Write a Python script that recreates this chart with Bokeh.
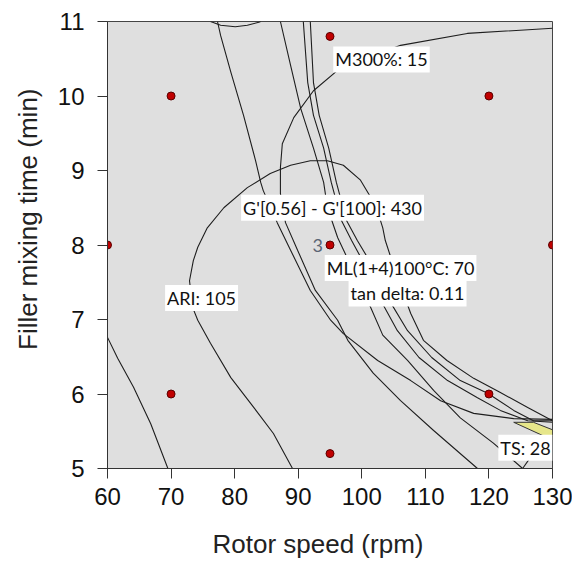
from bokeh.plotting import figure
from bokeh.models import Label, Range1d, FixedTicker, Title
from bokeh.embed import file_html
from bokeh.resources import INLINE

# ---- data ----
x_ticks = [60, 70, 80, 90, 100, 110, 120, 130]
y_ticks = [5, 6, 7, 8, 9, 10, 11]

design_x = [60, 130, 70, 70, 120, 120, 95, 95, 95]
design_y = [8, 8, 6, 10, 6, 10, 5.2, 10.8, 8]

curve_a_x = [60.0, 61.6, 64.1, 66.8, 69.5]
curve_a_y = [6.76, 6.48, 6.09, 5.60, 5.0]

curve_g_x = [89.1, 86.1, 83.0, 79.4, 76.2, 74.2, 73.4, 72.9, 73.5, 74.2, 75.7, 78.3, 82.0, 85.6, 88.8,
             91.9, 94.6, 97.1, 99.8, 101.4, 102.6, 103.3, 103.7, 105.5, 107.7, 109.7, 113.4, 117.6,
             121.8, 126.1, 130.0]
curve_g_y = [5.0, 5.47, 5.82, 6.22, 6.68, 6.99, 7.16, 7.52, 7.79, 7.97, 8.23, 8.50, 8.77, 8.96, 9.07,
             9.13, 9.13, 9.07, 8.87, 8.64, 8.42, 8.23, 8.06, 7.59, 7.08, 6.72, 6.45, 6.21,
             6.02, 5.82, 5.64]

curve_c_x = [77.3, 77.8, 79.4, 81.4, 83.3, 84.1, 84.5, 86.7, 88.8, 91.9, 95.1, 97.1, 102.5, 107.7,
             112.4, 117.6, 123.9, 130.0]
curve_c_y = [11.0, 10.81, 10.32, 9.74, 9.13, 8.84, 8.73, 8.30, 7.93, 7.39, 6.99, 6.81, 6.45, 6.18,
             5.91, 5.74, 5.67, 5.66]

curve_m_x = [130.0, 116.6, 106.1, 96.7, 92.4, 89.3, 87.5, 87.2, 87.2, 88.0, 89.9, 92.7, 96.2, 97.8,
             101.8, 106.1, 111.3, 118.2]
curve_m_y = [10.91, 10.84, 10.68, 10.38, 10.07, 9.71, 9.36, 9.04, 8.69, 8.30, 7.93, 7.39, 6.99, 6.72,
             6.28, 5.91, 5.51, 5.0]

curve_d_x = [87.2, 88.8, 90.4, 92.4, 94.0, 94.6, 96.2, 101.4, 103.3, 107.2, 111.3, 115.5, 120.7, 125.3]
curve_d_y = [11.0, 10.41, 9.83, 9.30, 8.84, 8.50, 8.10, 7.16, 6.79, 6.45, 6.05, 5.68, 5.34, 5.0]

curve_e_x = [90.8, 91.5, 92.4, 94.0, 95.2, 96.8, 98.4, 101.4, 103.4, 105.6, 109.0, 113.5, 118.2,
             121.8, 126.1, 130.0]
curve_e_y = [11.0, 10.18, 9.74, 9.30, 8.84, 8.33, 8.06, 7.59, 7.19, 6.85, 6.49, 6.18, 5.95,
             5.78, 5.64, 5.62]

curve_f_x = [91.9, 92.4, 93.3, 94.8, 96.0, 97.6, 99.3, 102.6, 104.8, 107.2, 111.0, 115.5, 119.8,
             123.9, 127.0, 130.0]
curve_f_y = [11.0, 10.18, 9.74, 9.30, 8.84, 8.33, 8.06, 7.59, 7.19, 6.85, 6.49, 6.18, 6.01,
             5.78, 5.64, 5.64]

curve_top_x = [76.2, 77.8, 80.1, 82.0, 83.8, 84.1]
curve_top_y = [11.0, 10.95, 10.93, 10.95, 10.99, 11.0]

curve_ts_x = [125.3, 126.7]
curve_ts_y = [5.0, 5.17]

feasible_x = [123.9, 127.0, 130.0, 130.0, 129.3]
feasible_y = [5.62, 5.62, 5.52, 5.44, 5.41]

label_text = ["M300%: 15", "G'[0.56] - G'[100]: 430", "ML(1+4)100\u00b0C: 70",
              "tan delta: 0.11", "ARI: 105", "TS: 28"]
label_x = [103.1, 95.4, 106.1, 107.2, 74.8, 125.75]
label_y = [10.49, 8.50, 7.69, 7.35, 7.29, 5.28]

replicate_text = "3"
x_title = "Rotor speed (rpm)"
y_title = "Filler mixing time (min)"

# ---- figure ----
p = figure(frame_width=445, frame_height=447,
           min_border_left=107, min_border_right=20, min_border_top=21, min_border_bottom=95,
           x_range=Range1d(60, 130), y_range=Range1d(5, 11),
           output_backend="svg", toolbar_location=None)
p.background_fill_color = "#dfdfdf"
p.border_fill_color = "white"
p.outline_line_color = "#444444"
p.outline_line_width = 1
p.xgrid.visible = False
p.ygrid.visible = False

for ax in (p.xaxis[0], p.yaxis[0]):
    ax.major_tick_out = 10
    ax.major_tick_in = 0
    ax.minor_tick_out = 0
    ax.minor_tick_in = 0
    ax.axis_line_color = "#333333"
    ax.major_tick_line_color = "#333333"
    ax.major_label_text_font = "Liberation Sans"
    ax.major_label_text_font_size = "24px"
    ax.major_label_text_color = "#111111"

p.xaxis.ticker = FixedTicker(ticks=x_ticks)
p.yaxis.ticker = FixedTicker(ticks=y_ticks)
p.xaxis.major_label_standoff = 9
p.yaxis.major_label_standoff = 13

p.add_layout(Title(text=x_title, align="left", offset=105, vertical_align="top", standoff=42,
                   text_font="Liberation Sans", text_font_size="26px",
                   text_font_style="normal", text_color="#222222"), "below")

p.add_layout(Title(text=y_title, align="right", offset=67, vertical_align="top", standoff=20,
                   text_font="Liberation Sans", text_font_size="26px",
                   text_font_style="normal", text_color="#222222"), "left")

p.patch(feasible_x, feasible_y, fill_color="#e6e68a", line_color="#333333", line_width=1)

curves = [(curve_a_x, curve_a_y), (curve_g_x, curve_g_y), (curve_c_x, curve_c_y),
          (curve_m_x, curve_m_y), (curve_d_x, curve_d_y), (curve_e_x, curve_e_y),
          (curve_f_x, curve_f_y), (curve_top_x, curve_top_y), (curve_ts_x, curve_ts_y)]
for cx, cy in curves:
    p.line(cx, cy, line_color="#1e1e1e", line_width=1.1)

p.scatter(design_x, design_y, size=8, fill_color="#c00000", line_color="#5a0000", line_width=1)

p.add_layout(Label(x=design_x[-1], y=design_y[-1], text=replicate_text, x_offset=-7,
                   text_align="right", text_baseline="middle", text_font="Lato",
                   text_font_size="18px", text_color="#5a6573"))

for t, lx, ly in zip(label_text, label_x, label_y):
    p.add_layout(Label(x=lx, y=ly, text=t, text_align="center", text_baseline="middle",
                       text_font="Lato", text_font_size="18px", text_color="#111111",
                       background_fill_color="white", padding=2))

open("out.html", "w", encoding="utf-8").write(file_html(p, INLINE))
